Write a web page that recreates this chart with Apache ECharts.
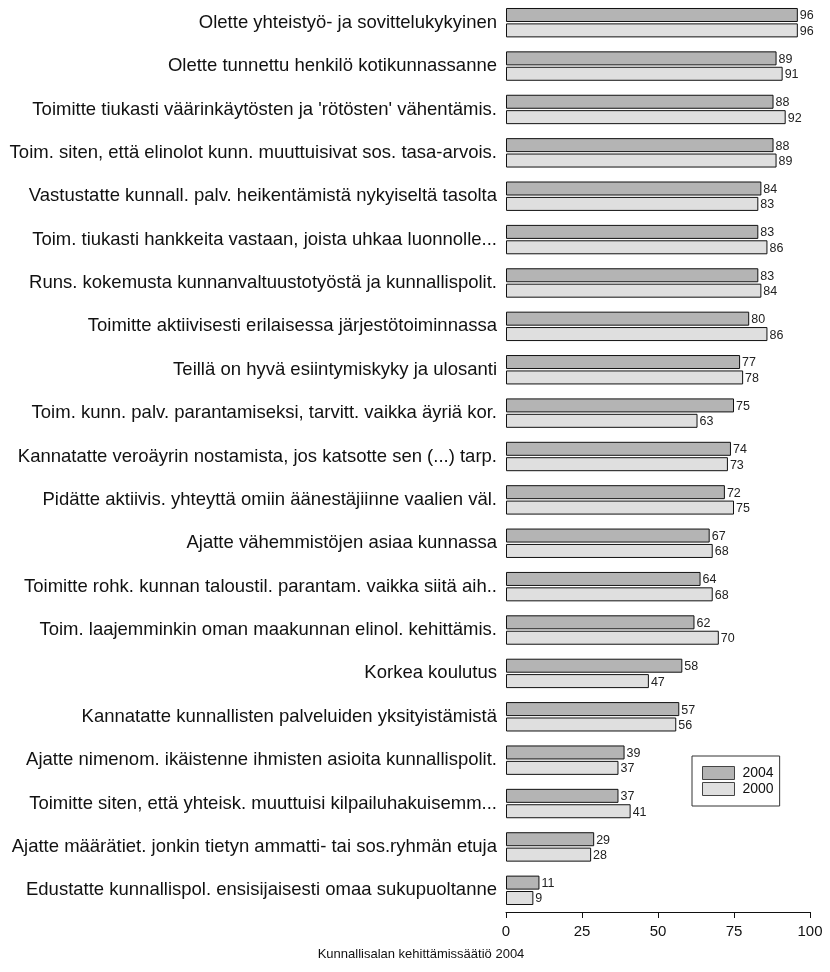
<!DOCTYPE html>
<html>
<head>
<meta charset="utf-8">
<script src="https://cdn.jsdelivr.net/npm/echarts@6/dist/echarts.min.js"></script>
<style>
  html, body { margin: 0; padding: 0; background: #fff; }
  #chart { width: 830px; height: 972px; }
</style>
</head>
<body>
<div id="chart"></div>
<script>
// Statements about the municipal candidate, share (%) per survey year
const categories = [
  "Olette yhteistyö- ja sovittelukykyinen",
  "Olette tunnettu henkilö kotikunnassanne",
  "Toimitte tiukasti väärinkäytösten ja 'rötösten' vähentämis.",
  "Toim. siten, että elinolot kunn. muuttuisivat sos. tasa-arvois.",
  "Vastustatte kunnall. palv. heikentämistä nykyiseltä tasolta",
  "Toim. tiukasti hankkeita vastaan, joista uhkaa luonnolle...",
  "Runs. kokemusta kunnanvaltuustotyöstä ja kunnallispolit.",
  "Toimitte aktiivisesti erilaisessa järjestötoiminnassa",
  "Teillä on hyvä esiintymiskyky ja ulosanti",
  "Toim. kunn. palv. parantamiseksi, tarvitt. vaikka äyriä kor.",
  "Kannatatte veroäyrin nostamista, jos katsotte sen (...) tarp.",
  "Pidätte aktiivis. yhteyttä omiin äänestäjiinne vaalien väl.",
  "Ajatte vähemmistöjen asiaa kunnassa",
  "Toimitte rohk. kunnan taloustil. parantam. vaikka siitä aih..",
  "Toim. laajemminkin oman maakunnan elinol. kehittämis.",
  "Korkea koulutus",
  "Kannatatte kunnallisten palveluiden yksityistämistä",
  "Ajatte nimenom. ikäistenne ihmisten asioita kunnallispolit.",
  "Toimitte siten, että yhteisk. muuttuisi kilpailuhakuisemm...",
  "Ajatte määrätiet. jonkin tietyn ammatti- tai sos.ryhmän etuja",
  "Edustatte kunnallispol. ensisijaisesti omaa sukupuoltanne"
];
const values2004 = [96, 89, 88, 88, 84, 83, 83, 80, 77, 75, 74, 72, 67, 64, 62, 58, 57, 39, 37, 29, 11];
const values2000 = [96, 91, 92, 89, 83, 86, 84, 86, 78, 63, 73, 75, 68, 68, 70, 47, 56, 37, 41, 28, 9];
const xTicks = [0, 25, 50, 75, 100];
const sourceText = "Kunnallisalan kehittämissäätiö 2004";

const FONT = "Liberation Sans, Arial, sans-serif";

const chart = echarts.init(document.getElementById('chart'), null, { renderer: 'canvas' });

function barSeries(name, data, fill) {
  return {
    name: name,
    type: 'bar',
    data: data,
    barWidth: 14,
    barGap: '10%',
    itemStyle: { color: fill, borderColor: '#111', borderWidth: 1 },
    label: {
      show: true,
      position: 'right',
      distance: 2,
      offset: [0, 1],
      color: '#222',
      fontFamily: FONT,
      fontSize: 12.5
    },
    emphasis: { disabled: true },
    animation: false
  };
}

chart.setOption({
  animation: false,
  backgroundColor: '#fff',
  grid: { left: 506, right: 20, top: 1, bottom: 60, containLabel: false },
  title: {
    text: sourceText,
    left: 416,
    top: 943,
    textAlign: 'center',
    textStyle: { fontFamily: FONT, fontSize: 13, fontWeight: 'normal', color: '#111' }
  },
  legend: {
    orient: 'vertical',
    left: 692,
    top: 756,
    data: ['2004', '2000'],
    icon: 'rect',
    itemWidth: 32,
    itemHeight: 13,
    itemGap: 2,
    padding: [10, 6, 10, 10],
    borderColor: '#333',
    borderWidth: 1,
    borderRadius: 0,
    itemStyle: { borderColor: '#444', borderWidth: 1 },
    textStyle: { fontFamily: FONT, fontSize: 14, color: '#111', padding: [0, 0, 0, 3] }
  },
  xAxis: {
    type: 'value',
    min: xTicks[0],
    max: xTicks[xTicks.length - 1],
    interval: 25,
    axisLine: { show: true, lineStyle: { color: '#111', width: 1 } },
    axisTick: { show: true, length: 6, lineStyle: { color: '#111' } },
    axisLabel: { fontFamily: FONT, fontSize: 15, color: '#111', margin: 12 },
    splitLine: { show: false }
  },
  yAxis: {
    type: 'category',
    data: categories,
    inverse: true,
    axisLine: { show: false },
    axisTick: { show: false },
    axisLabel: { fontFamily: FONT, fontSize: 18.5, color: '#111', margin: 9 },
    splitLine: { show: false }
  },
  series: [
    barSeries('2004', values2004, '#b4b4b4'),
    barSeries('2000', values2000, '#dfdfdf')
  ]
});
</script>
</body>
</html>
